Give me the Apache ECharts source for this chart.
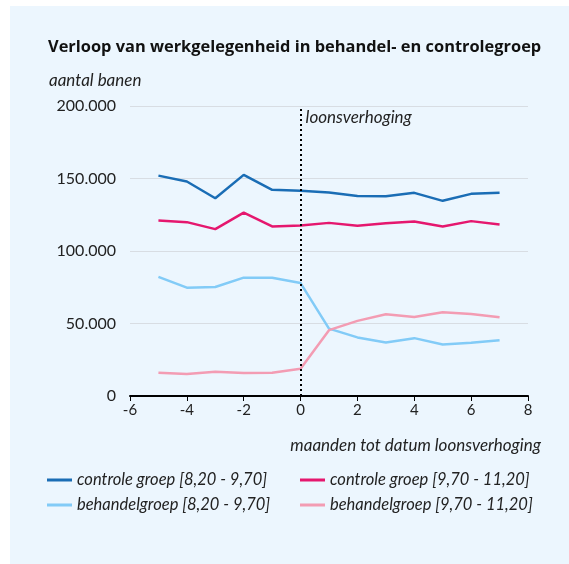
<!DOCTYPE html>
<html>
<head>
<meta charset="utf-8">
<script src="https://cdn.jsdelivr.net/npm/echarts@6/dist/echarts.min.js"></script>
<style>
  html, body { margin: 0; padding: 0; background: #ffffff; }
  #panel { position: absolute; left: 10px; top: 6px; width: 559px; height: 558px; background: #ecf6fe; }
  #chart { position: absolute; left: 0; top: 0; width: 569px; height: 564px; }
</style>
</head>
<body>
<div id="panel"></div>
<div id="chart"></div>
<script>
var maanden = [-5, -4, -3, -2, -1, 0, 1, 2, 3, 4, 5, 6, 7];
var controleLaag = [152000, 147900, 136400, 152500, 142200, 141500, 140300, 138000, 137800, 140100, 134600, 139400, 140100];
var controleHoog = [121000, 119900, 115100, 126500, 116900, 117600, 119400, 117400, 119200, 120400, 116900, 120600, 118300];
var behandelLaag = [82100, 74700, 75200, 81600, 81600, 77900, 46500, 40400, 36900, 39900, 35500, 36700, 38500];
var behandelHoog = [16000, 15100, 16700, 15800, 16000, 18800, 45400, 51800, 56400, 54500, 57800, 56600, 54300];
var seriesNames = [
  'controle groep [8,20 - 9,70]',
  'controle groep [9,70 - 11,20]',
  'behandelgroep [8,20 - 9,70]',
  'behandelgroep [9,70 - 11,20]'
];

function pairs(values) {
  return maanden.map(function (m, i) { return [m, values[i]]; });
}

var chartDom = document.getElementById('chart');
var myChart = echarts.init(chartDom, null, { renderer: 'canvas' });
var fontName = 'Lato';
var textColor = '#222';

function lineSeries(name, values, color) {
  return {
    name: name,
    type: 'line',
    data: pairs(values),
    showSymbol: false,
    symbol: 'none',
    lineStyle: { color: color, width: 2.5 },
    itemStyle: { color: color },
    emphasis: { disabled: true },
    z: 3
  };
}

var series = [
  lineSeries(seriesNames[0], controleLaag, '#1a6db5'),
  lineSeries(seriesNames[1], controleHoog, '#e5176e'),
  lineSeries(seriesNames[2], behandelLaag, '#82cbf7'),
  lineSeries(seriesNames[3], behandelHoog, '#f39cb3')
];

series[0].markLine = {
  silent: true,
  symbol: 'none',
  animation: false,
  label: { show: false },
  lineStyle: { color: '#000', type: [2, 3], width: 2 },
  data: [{ xAxis: 0 }]
};
series[0].markPoint = {
  silent: true,
  symbol: 'circle',
  symbolSize: 0,
  animation: false,
  label: {
    show: true,
    position: 'right',
    offset: [0, 12],
    formatter: 'loonsverhoging',
    color: textColor,
    fontFamily: fontName,
    fontStyle: 'italic',
    fontSize: 17
  },
  data: [{ coord: [0, 200000] }]
};

var legendText = { color: textColor, fontFamily: fontName, fontStyle: 'italic', fontSize: 16.5, lineHeight: 18 };

var option = {
  animation: false,
  backgroundColor: 'transparent',
  textStyle: { fontFamily: fontName },
  title: [
    {
      text: 'Verloop van werkgelegenheid in behandel- en controlegroep',
      left: 43, top: 34,
      textStyle: { fontFamily: 'Open Sans', fontWeight: 'bold', fontSize: 16.4, color: '#111' }
    },
    {
      text: 'aantal banen',
      left: 44, top: 67,
      textStyle: { fontFamily: fontName, fontStyle: 'italic', fontWeight: 'normal', fontSize: 17, color: textColor }
    },
    {
      text: 'maanden tot datum loonsverhoging',
      right: 23, top: 432,
      textStyle: { fontFamily: fontName, fontStyle: 'italic', fontWeight: 'normal', fontSize: 17, color: textColor }
    }
  ],
  legend: [
    {
      data: [seriesNames[0], seriesNames[2]],
      orient: 'vertical',
      left: 42, top: 466,
      itemWidth: 25, itemHeight: 3, itemGap: 7,
      icon: 'rect',
      selectedMode: false,
      textStyle: legendText
    },
    {
      data: [seriesNames[1], seriesNames[3]],
      orient: 'vertical',
      left: 295, top: 466,
      itemWidth: 25, itemHeight: 3, itemGap: 7,
      icon: 'rect',
      selectedMode: false,
      textStyle: legendText
    }
  ],
  grid: { left: 130, right: 41, top: 106, bottom: 168, containLabel: false },
  xAxis: {
    type: 'value',
    min: -6, max: 8, interval: 2,
    splitLine: { show: false },
    axisLine: { show: true, onZero: false, lineStyle: { color: '#000', width: 2 } },
    axisTick: { show: true, length: 5, lineStyle: { color: '#000', width: 1 } },
    axisLabel: { color: textColor, fontFamily: fontName, fontSize: 15, margin: 7 }
  },
  yAxis: {
    type: 'value',
    min: 0, max: 200000, interval: 50000,
    axisLine: { show: false },
    axisTick: { show: false },
    splitLine: { lineStyle: { color: '#d8dde3', width: 1 } },
    axisLabel: {
      color: textColor, fontFamily: fontName, fontSize: 16, margin: 14,
      formatter: function (v) { return String(v).replace(/\B(?=(\d{3})+(?!\d))/g, '.'); }
    }
  },
  series: series
};

option && myChart.setOption(option);
</script>
</body>
</html>
